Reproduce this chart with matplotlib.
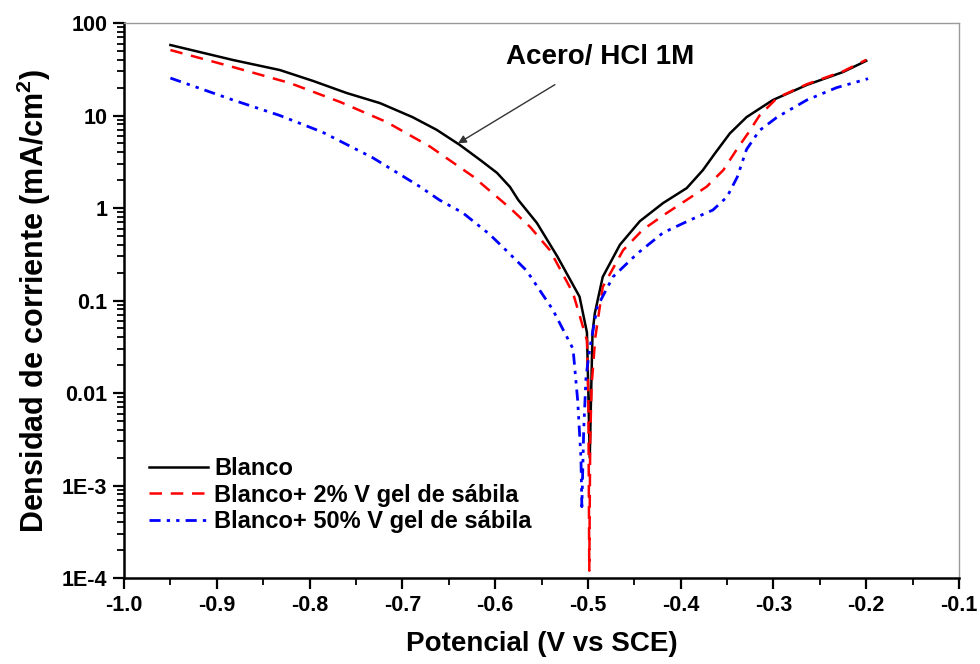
import matplotlib
matplotlib.use("Agg")
import matplotlib.pyplot as plt
from matplotlib.ticker import FixedLocator, LogLocator, NullFormatter, MultipleLocator

plt.rcParams['font.family'] = ['Liberation Sans', 'DejaVu Sans']
plt.rcParams['font.weight'] = 'bold'
plt.rcParams['mathtext.fontset'] = 'custom'
plt.rcParams['mathtext.rm'] = 'Liberation Sans:bold'
plt.rcParams['mathtext.bf'] = 'Liberation Sans:bold'
plt.rcParams['mathtext.default'] = 'bf'

# ---- data ----
blanco_E = [-0.95, -0.8825, -0.832, -0.796, -0.76, -0.724, -0.689, -0.663, -0.638,
            -0.616, -0.598, -0.584, -0.575, -0.555, -0.533, -0.509, -0.501, -0.4995, -0.498,
            -0.4965, -0.495, -0.4925, -0.484, -0.4655, -0.444, -0.419, -0.3935,
            -0.376, -0.363, -0.347, -0.329, -0.3006, -0.264, -0.225, -0.20]
blanco_i = [57.8, 39.8, 31, 23.6, 17.5, 13.6, 9.6, 7.0, 4.8,
            3.3, 2.4, 1.69, 1.22, 0.69, 0.30, 0.11, 0.045, 0.01, 0.002,
            0.01, 0.045, 0.073, 0.18, 0.40, 0.72, 1.13, 1.64,
            2.57, 3.9, 6.4, 9.6, 14.7, 21.4, 29.5, 39]

gel2_E = [-0.95, -0.8825, -0.821, -0.767, -0.717, -0.670, -0.624, -0.583, -0.562, -0.541,
          -0.516, -0.501, -0.4995, -0.499, -0.4985, -0.4975, -0.496, -0.492, -0.484,
          -0.462, -0.441, -0.419, -0.39, -0.372, -0.354, -0.3395, -0.3275, -0.315,
          -0.296, -0.264, -0.225, -0.20]
gel2_i = [51, 33.4, 22.4, 14, 8.5, 4.6, 2.2, 0.98, 0.62, 0.35,
          0.12, 0.037, 0.009, 0.001, 1.2e-4, 0.003, 0.012, 0.04, 0.14,
          0.35, 0.58, 0.83, 1.29, 1.7, 2.57, 4.3, 6.4, 10,
          15.5, 21.8, 30, 40]

gel50_E = [-0.95, -0.8825, -0.832, -0.786, -0.732, -0.681, -0.660, -0.635, -0.606,
           -0.587, -0.566, -0.538, -0.516, -0.511, -0.5075, -0.5065, -0.5045, -0.502,
           -0.498, -0.49, -0.473, -0.447, -0.419, -0.39, -0.3653, -0.35, -0.339,
           -0.329, -0.315, -0.296, -0.264, -0.232, -0.198]
gel50_i = [25.4, 14.7, 10, 6.6, 3.5, 1.7, 1.22, 0.89, 0.52,
           0.34, 0.21, 0.08, 0.03, 0.0083, 0.002, 5.9e-4, 0.004, 0.015,
           0.03, 0.085, 0.18, 0.32, 0.54, 0.74, 0.95, 1.32, 2.16,
           4.3, 6.9, 9.6, 14.7, 20, 25]

labels = ["Blanco", "Blanco+ 2% V gel de sábila", "Blanco+ 50% V gel de sábila"]

x_ticks = [-1.0, -0.9, -0.8, -0.7, -0.6, -0.5, -0.4, -0.3, -0.2, -0.1]
x_ticklabels = ["-1.0", "-0.9", "-0.8", "-0.7", "-0.6", "-0.5", "-0.4", "-0.3", "-0.2", "-0.1"]
y_ticks = [1e-4, 1e-3, 1e-2, 1e-1, 1, 10, 100]
y_ticklabels = ["1E-4", "1E-3", "0.01", "0.1", "1", "10", "100"]

# ---- figure ----
fig = plt.figure(figsize=(9.8, 6.64), dpi=100)
ax = fig.add_axes([124/980, 1-578/664, (959-124)/980, (578-23)/664])

ax.plot(blanco_E, blanco_i, color='black', lw=1.8, ls='-', label=labels[0])
ax.plot(gel2_E, gel2_i, color='#ff0000', lw=1.8, ls=(0, (5, 3.5)), label=labels[1])
ax.plot(gel50_E, gel50_i, color='#0000ff', lw=2.0, ls=(0, (4, 2.2, 1.2, 2.2, 1.2, 2.2)), label=labels[2])

ax.set_yscale('log')
ax.set_xlim(-1.0, -0.1)
ax.set_ylim(1e-4, 100)

ax.xaxis.set_major_locator(FixedLocator(x_ticks))
ax.set_xticklabels(x_ticklabels)
ax.xaxis.set_minor_locator(MultipleLocator(0.05))
ax.yaxis.set_major_locator(FixedLocator(y_ticks))
ax.set_yticklabels(y_ticklabels)
ax.yaxis.set_minor_locator(LogLocator(base=10, subs=range(2, 10), numticks=20))
ax.yaxis.set_minor_formatter(NullFormatter())

for side in ['left', 'bottom']:
    ax.spines[side].set_linewidth(1.8)
    ax.spines[side].set_color('black')
for side in ['top', 'right']:
    ax.spines[side].set_linewidth(1.0)
    ax.spines[side].set_color('#9a9a9a')

ax.tick_params(axis='both', which='major', direction='out', length=8, width=1.6,
               labelsize=15.5, top=False, right=False, pad=4)
ax.tick_params(axis='both', which='minor', direction='out', length=5, width=1.3,
               top=False, right=False)
for lab in ax.get_xticklabels() + ax.get_yticklabels():
    lab.set_fontweight('bold')

ax.set_xlabel("Potencial (V vs SCE)", fontsize=20, fontweight='bold', labelpad=11)
ax.set_ylabel(r"Densidad de corriente (mA/cm$^{2}$)", fontsize=22, fontweight='bold', labelpad=6)

ax.annotate("Acero/ HCl 1M", xy=(-0.640, 5.0), xytext=(-0.487, 42.5),
            textcoords='data', fontsize=20, fontweight='bold', ha='center', va='center',
            arrowprops=dict(arrowstyle='-|>', color='#333333', lw=1.0,
                            mutation_scale=12, shrinkA=16, shrinkB=0))

leg = ax.legend(loc='upper left', bbox_to_anchor=(0.03, 0.218), frameon=False,
                fontsize=17, handlelength=2.5, handletextpad=0.25, labelspacing=0.15,
                borderpad=0, borderaxespad=0)
for t in leg.get_texts():
    t.set_fontweight('bold')

fig.savefig("out.png", dpi=100)
